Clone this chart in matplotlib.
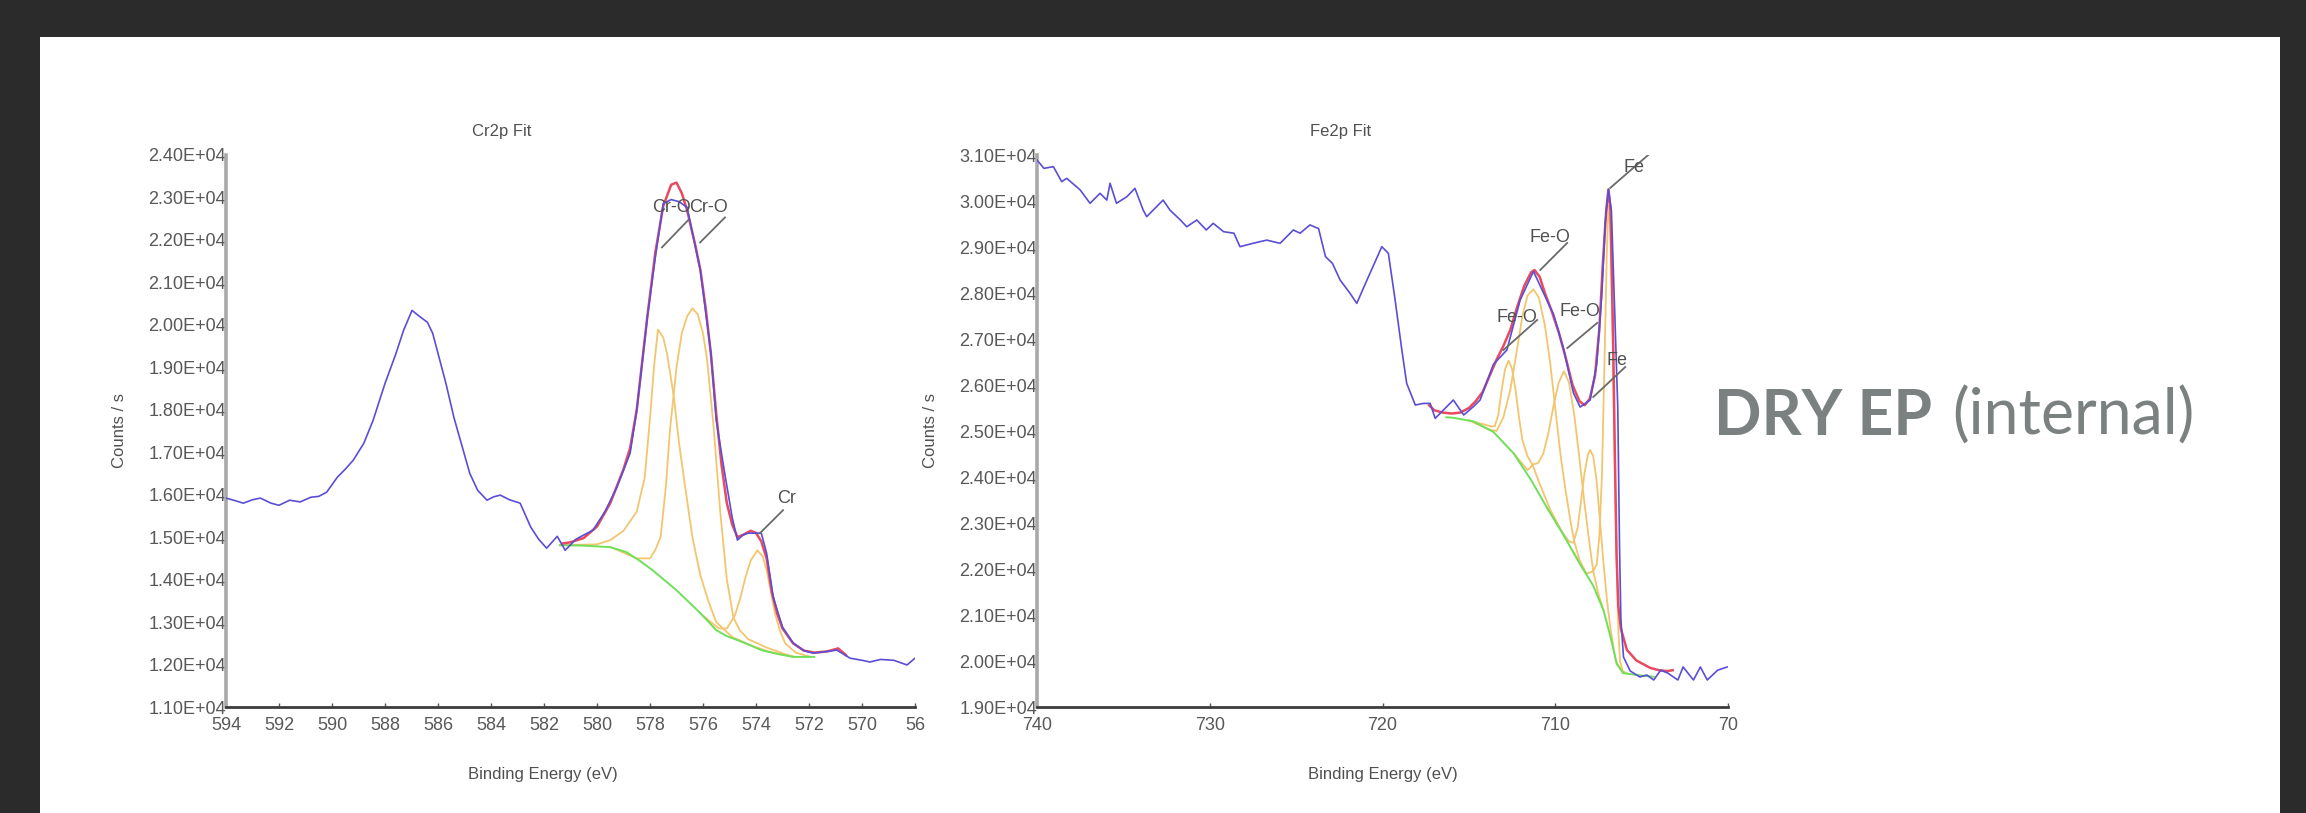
import matplotlib
matplotlib.use("Agg")
import matplotlib.pyplot as plt
from matplotlib.patches import Rectangle

# ---------------- Cr2p data ----------------
cr_raw_be = [594.0, 593.6, 593.35, 593.0, 592.7, 592.3, 592.0, 591.6, 591.2, 590.8, 590.5, 590.2,
             589.8, 589.5, 589.2, 588.8, 588.45, 588.0, 587.6, 587.3, 586.98, 586.7, 586.4, 586.2,
             585.7, 585.4, 585.05, 584.8, 584.5, 584.15, 583.9, 583.65, 583.3, 582.9, 582.5, 582.2,
             581.9, 581.5, 581.2, 580.8, 580.15, 579.7, 579.25, 578.75, 578.5, 578.1, 577.8, 577.5,
             577.2, 576.9, 576.6, 576.1, 575.7, 575.5, 575.2, 574.9, 574.7, 574.5, 574.3, 573.8,
             573.6, 573.35, 573.0, 572.6, 572.2, 571.85, 571.4, 570.95, 570.45, 570.0, 569.7,
             569.3, 568.8, 568.3, 568.0]
cr_raw_cps = [15920, 15850, 15800, 15880, 15920, 15800, 15750, 15870, 15830, 15940, 15960, 16060,
              16410, 16600, 16810, 17210, 17750, 18620, 19300, 19870, 20340, 20200, 20060, 19800,
              18620, 17820, 17050, 16500, 16100, 15870, 15950, 15990, 15880, 15800, 15235, 14950,
              14740, 15020, 14690, 14950, 15165, 15600, 16176, 16976, 17988, 20176, 21588, 22860,
              22950, 22900, 22765, 21280, 19330, 17750, 16576, 15470, 14930, 15050, 15094, 15094,
              14624, 13588, 12882, 12506, 12330, 12270, 12300, 12340, 12150, 12100, 12060,
              12120, 12100, 11990, 12150]

cr_env_be = [581.3, 581.0, 580.5, 580.0, 579.5, 579.25, 579.0, 578.75, 578.5, 578.3, 578.1, 577.8,
             577.5, 577.2, 577.0, 576.8, 576.6, 576.3, 576.1, 575.9, 575.7, 575.5, 575.3, 575.1,
             574.9, 574.7, 574.5, 574.2, 574.0, 573.8, 573.6, 573.4, 573.2, 573.0, 572.6, 572.2,
             571.8, 571.3, 570.9, 570.6]
cr_env_cps = [14850, 14880, 14980, 15250, 15800, 16200, 16600, 17100, 18000, 19100, 20200, 21700,
              22800, 23300, 23350, 23100, 22700, 21900, 21300, 20400, 19300, 17900, 16700, 15800,
              15300, 15000, 15050, 15150, 15100, 14900, 14500, 13700, 13200, 12850, 12500, 12330,
              12280, 12310, 12380, 12220]

cr_bg_be = [581.4, 580.5, 579.5, 578.9, 578.4, 577.9, 577.4, 577.0, 576.5, 576.1, 575.5, 575.1,
            574.7, 574.2, 573.8, 573.2, 572.6, 571.8]
cr_bg_cps = [14810, 14800, 14765, 14650, 14450, 14220, 13960, 13750, 13450, 13210, 12810, 12670,
             12575, 12450, 12340, 12250, 12180, 12180]

cr_c1_be = [581.4, 580.0, 579.5, 579.0, 578.5, 578.2, 578.0, 577.85, 577.7, 577.5, 577.35, 577.1,
            576.9, 576.7, 576.4, 576.1, 575.8, 575.5, 574.9, 574.2, 573.5, 572.5]
cr_c1_cps = [14810, 14830, 14930, 15150, 15600, 16400, 17800, 19000, 19890, 19700, 19300, 18300,
             17200, 16300, 15000, 14100, 13500, 13000, 12650, 12450, 12300, 12180]

cr_c2_be = [579.5, 578.5, 578.0, 577.8, 577.6, 577.4, 577.25, 577.0, 576.8, 576.6, 576.4, 576.2,
            576.0, 575.85, 575.6, 575.35, 575.1, 574.85, 574.6, 574.3, 573.6, 572.6]
cr_c2_cps = [14770, 14500, 14500, 14700, 15000, 16200, 17500, 19000, 19800, 20200, 20390, 20250,
             19800, 19200, 17600, 15600, 14000, 13100, 12800, 12600, 12400, 12180]

cr_c3_be = [576.0, 575.4, 575.1, 574.8, 574.6, 574.4, 574.2, 573.95, 573.75, 573.6, 573.45, 573.3,
            573.1, 572.9, 572.5, 572.0]
cr_c3_cps = [13150, 12850, 12850, 13150, 13550, 14050, 14450, 14690, 14550, 14230, 13750, 13250,
             12800, 12500, 12280, 12190]

cr_xticks = [594, 592, 590, 588, 586, 584, 582, 580, 578, 576, 574, 572, 570, 568]
cr_xticklabels = ["594", "592", "590", "588", "586", "584", "582", "580", "578", "576", "574",
                  "572", "570", "56"]
cr_yticks = [11000, 12000, 13000, 14000, 15000, 16000, 17000, 18000, 19000, 20000, 21000, 22000,
             23000, 24000]
cr_yticklabels = ["1.10E+04", "1.20E+04", "1.30E+04", "1.40E+04", "1.50E+04", "1.60E+04",
                  "1.70E+04", "1.80E+04", "1.90E+04", "2.00E+04", "2.10E+04", "2.20E+04",
                  "2.30E+04", "2.40E+04"]

# label, text position (be, cps), leader end (be, cps), leader start (be, cps)
cr_labels = [("Cr-O", (577.2, 22765), (577.55, 21824), (576.57, 22459)),
             ("Cr-O", (575.8, 22765), (576.11, 21941), (575.17, 22530)),
             ("Cr", (572.83, 15918), (573.85, 15094), (572.98, 15635))]

# ---------------- Fe2p data ----------------
fe_raw_be = [740.0, 739.6, 739.05, 738.57, 738.28, 737.5, 736.93, 736.35, 735.96, 735.77, 735.4,
             734.8, 734.33, 733.85, 733.65, 732.7, 732.3, 731.7, 731.33, 730.75, 730.2, 729.8,
             729.2, 728.6, 728.25, 727.5, 726.7, 725.93, 725.16, 724.77, 724.2, 723.7, 723.3,
             722.9, 722.45, 721.88, 721.49, 720.9, 720.04, 719.66, 719.27, 718.88, 718.6, 718.1,
             717.63, 717.24, 716.95, 716.47, 715.9, 715.3, 714.74, 714.35, 713.58, 712.8, 712.03,
             711.26, 710.68, 710.1, 709.5, 708.95, 708.56, 707.98, 707.6, 707.3, 707.1, 706.92,
             706.75, 706.55, 706.38, 706.28, 706.2, 706.05, 705.66, 705.1, 704.7, 704.3, 703.9,
             703.5, 702.9, 702.6, 702.0, 701.6, 701.2, 700.6, 700.05]
fe_raw_cps = [30890, 30710, 30746, 30420, 30493, 30240, 29950, 30167, 30020, 30385, 29950,
              30093, 30275, 29800, 29660, 30020, 29800, 29587, 29440, 29587, 29370, 29515,
              29333, 29300, 29007, 29080, 29150, 29080, 29370, 29300, 29480, 29400, 28790,
              28645, 28280, 27993, 27775, 28280, 29007, 28863, 27850, 26760, 26036, 25565,
              25600, 25600, 25275, 25457, 25674, 25348, 25529, 25674, 26450, 26760, 27850,
              28470, 28000, 27537, 26760, 25830, 25520, 25674, 26450, 28000, 29557, 30254,
              29800, 27500, 25500, 22500, 20900, 20087, 19783, 19652, 19696, 19587, 19800,
              19740, 19587, 19870, 19587, 19870, 19587, 19800, 19870]

fe_env_be = [717.3, 717.0, 716.5, 716.0, 715.5, 715.0, 714.6, 714.2, 713.8, 713.4, 713.0, 712.6,
             712.2, 711.8, 711.4, 711.2, 710.9, 710.6, 710.2, 709.8, 709.4, 709.0, 708.6, 708.3,
             708.0, 707.7, 707.45, 707.25, 707.05, 706.92, 706.8, 706.65, 706.55, 706.45, 706.35,
             706.2, 705.85, 705.3, 704.5, 704.0, 703.5, 703.2]
fe_env_cps = [25560, 25450, 25400, 25380, 25400, 25500, 25650, 25850, 26200, 26550, 26850, 27200,
              27700, 28150, 28450, 28500, 28350, 28000, 27600, 27150, 26600, 26000, 25650, 25560,
              25700, 26200, 27200, 28600, 29800, 30250, 29800, 27000, 24500, 22300, 21200,
              20700, 20240, 20010, 19850, 19800, 19780, 19800]

fe_bg_be = [716.3, 715.9, 714.74, 713.58, 712.4, 711.45, 710.5, 709.5, 708.56, 707.8, 707.2,
            706.82, 706.43, 706.05, 705.28, 704.3]
fe_bg_cps = [25300, 25287, 25210, 24978, 24510, 23965, 23347, 22724, 22102, 21637, 21093,
             20550, 19928, 19735, 19696, 19657]

fe_c1_be = [715.0, 714.2, 713.7, 713.5, 713.3, 713.1, 712.9, 712.7, 712.5, 712.3, 712.1, 711.9,
            711.6, 711.3, 710.9, 710.3, 709.5]
fe_c1_cps = [25230, 25150, 25100, 25100, 25350, 25900, 26350, 26530, 26350, 25900, 25300, 24800,
             24450, 24250, 23850, 23300, 22724]

fe_c2_be = [715.0, 713.8, 713.4, 713.0, 712.6, 712.2, 711.9, 711.6, 711.26, 710.95, 710.6, 710.3,
            710.0, 709.7, 709.4, 709.1, 708.9, 708.6, 708.2]
fe_c2_cps = [25230, 25030, 25000, 25300, 25900, 26800, 27500, 27950, 28080, 27900, 27300, 26500,
             25500, 24500, 23700, 23000, 22600, 22200, 21900]

fe_c3_be = [712.4, 711.6, 711.26, 711.0, 710.7, 710.4, 710.1, 709.8, 709.5, 709.2, 708.9, 708.6,
            708.3, 708.0, 707.8, 707.5, 707.2]
fe_c3_cps = [24510, 24150, 24280, 24300, 24500, 24950, 25550, 26050, 26300, 26050, 25350, 24400,
             23400, 22500, 21950, 21450, 21100]

fe_c4_be = [710.5, 709.5, 709.2, 708.95, 708.7, 708.5, 708.3, 708.1, 707.98, 707.8, 707.6, 707.4,
            707.2, 707.0, 706.8, 706.5, 706.1]
fe_c4_cps = [23347, 22750, 22600, 22570, 22900, 23500, 24100, 24500, 24590, 24450, 23900, 23000,
             22100, 21300, 20700, 20000, 19740]

fe_c5_be = [709.0, 708.2, 707.8, 707.6, 707.45, 707.3, 707.15, 707.02, 706.92, 706.82, 706.7,
            706.58, 706.45, 706.35, 706.25, 706.1, 705.8]
fe_c5_cps = [22400, 21900, 21950, 22100, 22700, 24000, 26500, 28800, 29900, 29500, 27500,
             24800, 22200, 20700, 20000, 19780, 19720]

fe_xticks = [740, 730, 720, 710, 700]
fe_xticklabels = ["740", "730", "720", "710", "70"]
fe_yticks = [19000, 20000, 21000, 22000, 23000, 24000, 25000, 26000, 27000, 28000, 29000, 30000,
             31000]
fe_yticklabels = ["1.90E+04", "2.00E+04", "2.10E+04", "2.20E+04", "2.30E+04", "2.40E+04",
                  "2.50E+04", "2.60E+04", "2.70E+04", "2.80E+04", "2.90E+04", "3.00E+04",
                  "3.10E+04"]

fe_labels = [("Fe", (705.43, 30739), (706.82, 30283), (704.62, 31000)),
             ("Fe-O", (710.3, 29217), (710.87, 28500), (709.31, 29087)),
             ("Fe-O", (712.2, 27478), (713.0, 26760), (711.05, 27413)),
             ("Fe-O", (708.56, 27587), (709.3, 26804), (707.57, 27350)),
             ("Fe", (706.42, 26522), (707.8, 25739), (705.95, 26391))]

# ---------------- styling ----------------
FONT = ["Liberation Sans", "DejaVu Sans"]
TXT = "#585858"
C_RAW = "#5a4ed6"
C_ENV = "#e84a5f"
C_BG = "#6ee05a"
C_COMP = "#f2c56e"
FS = 13

fig = plt.figure(figsize=(23.06, 8.13), dpi=100, facecolor="#2b2b2b")
fig.patches.append(Rectangle((40 / 2306, 0), 2240 / 2306, 776 / 813,
                             transform=fig.transFigure, facecolor="white",
                             edgecolor="none", zorder=-10))


def draw_panel(ax, raw, env, bg, comps, xlim, ylim, xt, xtl, yt, ytl, labels, title, title_x,
               xlabel_x):
    for be, cps in comps:
        ax.plot(be, cps, color=C_COMP, lw=1.3, zorder=2)
    ax.plot(bg[0], bg[1], color=C_BG, lw=1.4, zorder=3)
    ax.plot(env[0], env[1], color=C_ENV, lw=1.8, zorder=4)
    ax.plot(raw[0], raw[1], color=C_RAW, lw=1.2, zorder=5)

    for text, tpos, tip, start in labels:
        ax.plot([start[0], tip[0]], [start[1], tip[1]], color="#6a6a6a", lw=1.3, zorder=6)
        ax.text(tpos[0], tpos[1], text, ha="center", va="center", fontsize=FS,
                family=FONT, color="#505050", zorder=7)

    ax.set_xlim(*xlim)
    ax.set_ylim(*ylim)
    ax.set_xticks(xt)
    ax.set_xticklabels(xtl)
    ax.set_yticks(yt)
    ax.set_yticklabels(ytl)
    for s in ("top", "right"):
        ax.spines[s].set_visible(False)
    ax.spines["left"].set_color("#a9a9a9")
    ax.spines["left"].set_linewidth(2.6)
    ax.spines["bottom"].set_color("#3c3c3c")
    ax.spines["bottom"].set_linewidth(2.0)
    ax.tick_params(axis="x", direction="in", length=3, width=1, color="#555555",
                   labelsize=FS, labelcolor=TXT, pad=7)
    ax.tick_params(axis="y", length=0, labelsize=FS, labelcolor=TXT, pad=0)
    for lab in ax.get_xticklabels() + ax.get_yticklabels():
        lab.set_family(FONT)
    ax.set_facecolor("none")

    ax.text(title_x, 1.042, title, transform=ax.transAxes, ha="center", va="center",
            fontsize=FS - 1, family=FONT, color="#505050")
    ax.text(xlabel_x, -0.123, "Binding Energy (eV)", transform=ax.transAxes, ha="center",
            va="center", fontsize=FS - 1, family=FONT, color="#505050")
    ax.text(-0.154, 0.5, "Counts / s", transform=ax.transAxes, ha="center", va="center",
            rotation=90, fontsize=FS - 1, family=FONT, color="#505050")


ax1 = fig.add_axes([226 / 2306, 106 / 813, 689 / 2306, 552 / 813])
draw_panel(ax1, (cr_raw_be, cr_raw_cps), (cr_env_be, cr_env_cps), (cr_bg_be, cr_bg_cps),
           [(cr_c1_be, cr_c1_cps), (cr_c2_be, cr_c2_cps), (cr_c3_be, cr_c3_cps)],
           (594, 568), (11000, 24000), cr_xticks, cr_xticklabels, cr_yticks, cr_yticklabels,
           cr_labels, "Cr2p Fit", 0.40, 0.46)

ax2 = fig.add_axes([1037 / 2306, 106 / 813, 691 / 2306, 552 / 813])
draw_panel(ax2, (fe_raw_be, fe_raw_cps), (fe_env_be, fe_env_cps), (fe_bg_be, fe_bg_cps),
           [(fe_c1_be, fe_c1_cps), (fe_c2_be, fe_c2_cps), (fe_c3_be, fe_c3_cps),
            (fe_c4_be, fe_c4_cps), (fe_c5_be, fe_c5_cps)],
           (740, 700), (19000, 31000), fe_xticks, fe_xticklabels, fe_yticks, fe_yticklabels,
           fe_labels, "Fe2p Fit", 0.44, 0.5)

# slide caption
fig.text(1714 / 2306, (813 - 435) / 813, "DRY EP", fontsize=45, fontweight="bold",
         family=["Lato", "DejaVu Sans"], color="#7b8181", va="baseline", ha="left")
fig.text(1952 / 2306, (813 - 435) / 813, "(internal)", fontsize=45, fontweight="normal",
         family=["Lato", "DejaVu Sans"], color="#7b8181", va="baseline", ha="left")

fig.savefig("out.png", dpi=100, facecolor=fig.get_facecolor())
